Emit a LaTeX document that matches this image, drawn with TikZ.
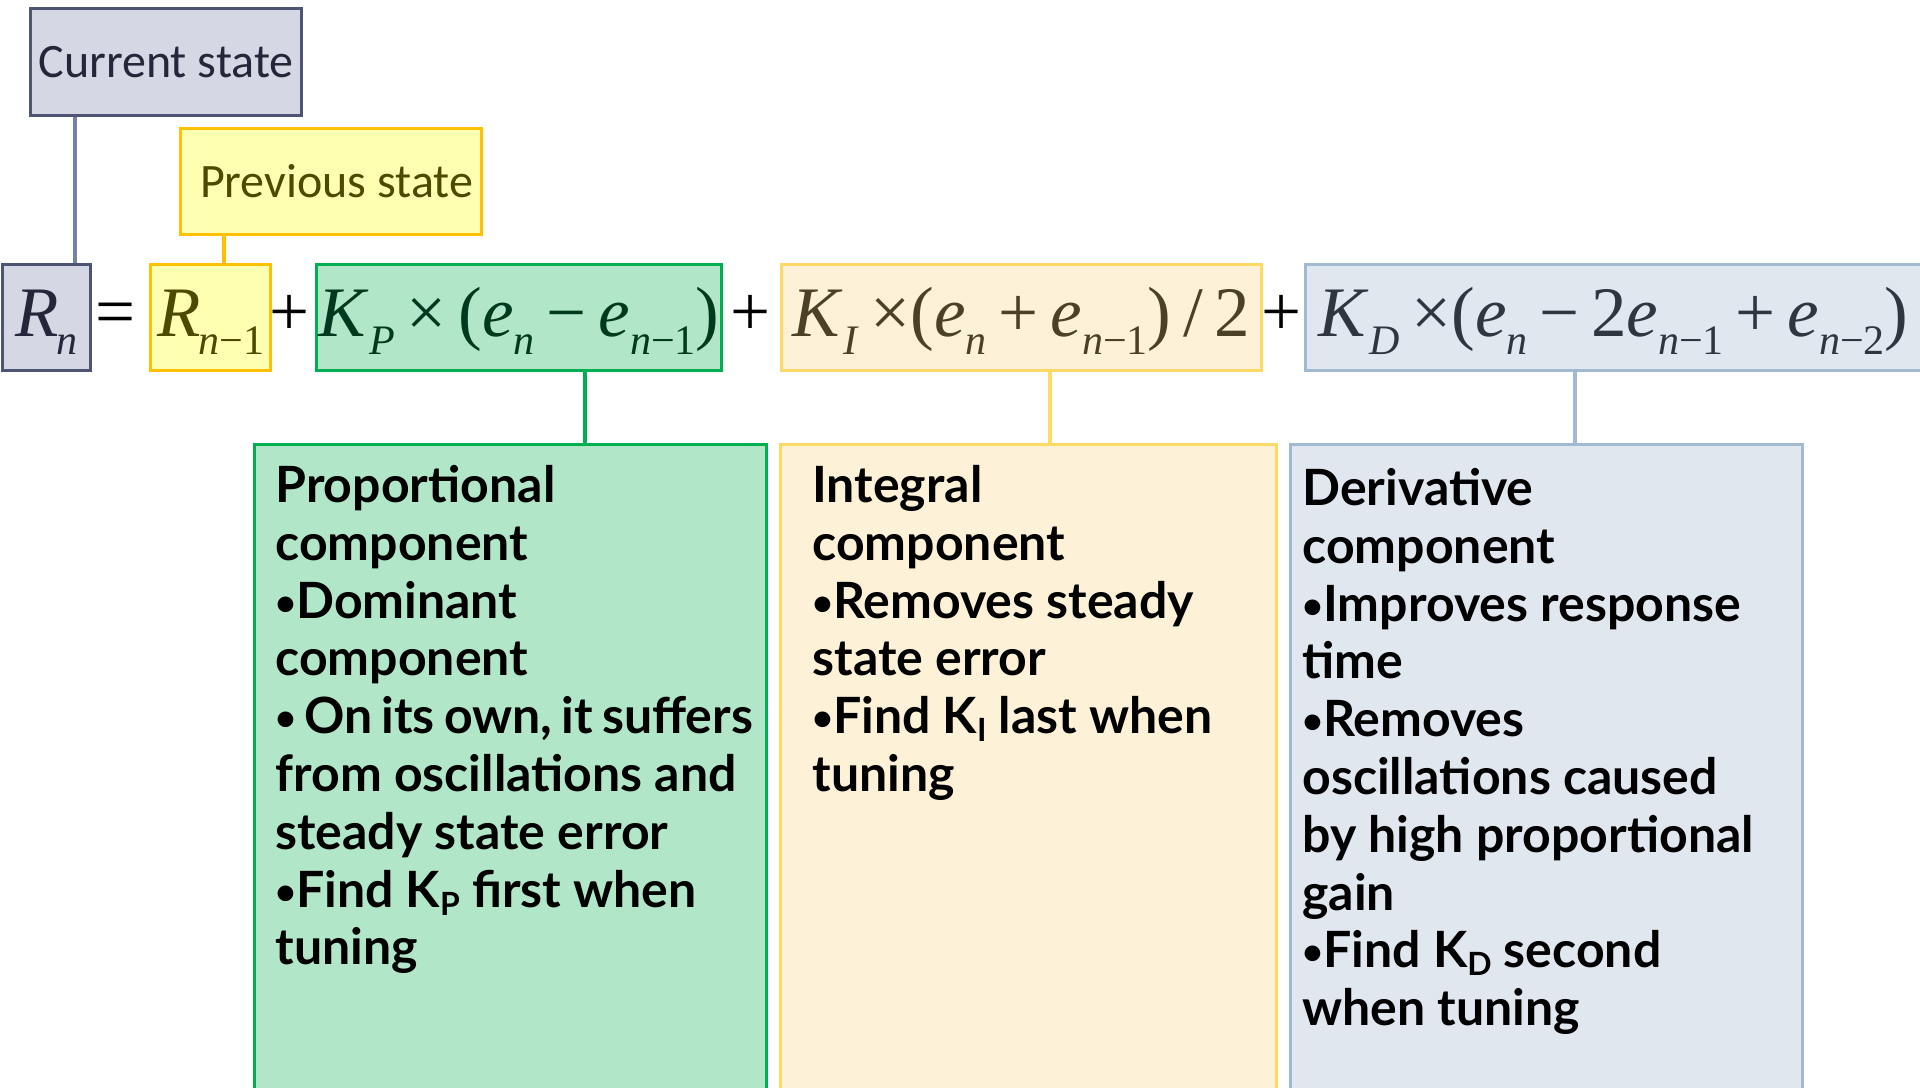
\documentclass[tikz,border=0pt]{standalone}
\usepackage{fontspec}
\setmainfont{Liberation Serif}
\newfontfamily\eqf{Liberation Serif}
\newfontfamily\lblf{Carlito}
\newfontfamily\bodyf{Lato}
\definecolor{curfill}{HTML}{D5D7E4}
\definecolor{curline}{HTML}{4E5574}
\definecolor{curconn}{HTML}{7680A9}
\definecolor{curtext}{HTML}{24263A}
\definecolor{prevfill}{HTML}{FFFFB2}
\definecolor{prevline}{HTML}{FFC000}
\definecolor{prevtext}{HTML}{4C4A00}
\definecolor{kpfill}{HTML}{B2E6C9}
\definecolor{kpline}{HTML}{00B050}
\definecolor{kptext}{HTML}{003A1E}
\definecolor{kifill}{HTML}{FDF2D7}
\definecolor{kiline}{HTML}{FFD966}
\definecolor{kitext}{HTML}{4A4128}
\definecolor{kdfill}{HTML}{E1E7EF}
\definecolor{kdline}{HTML}{A2B9D2}
\definecolor{kdtext}{HTML}{2E3640}
\newcommand{\sbs}[1]{\raisebox{-9pt}{\fontsize{21}{21}\selectfont #1}}
\newcommand{\ksub}[1]{\raisebox{-4pt}{\fontsize{16}{16}\selectfont #1}}
\newcommand{\fl}{\rule{0pt}{22pt}}
\newcommand{\bu}{\raisebox{1.5pt}{\fontsize{18}{18}\selectfont •}}
\begin{document}
\begin{tikzpicture}[x=0.5pt,y=-0.5pt,
  lbl/.style={draw, line width=1.6pt, inner sep=0pt, anchor=north west, font=\lblf\fontsize{24}{28}\selectfont},
  eqbox/.style={draw, line width=1.6pt, inner sep=0pt, anchor=north west, minimum height=53pt, text height=36pt, text depth=17pt, font=\eqf\fontsize{35.5}{40}\selectfont},
  eqop/.style={inner sep=0pt, anchor=base, font=\eqf\fontsize{35.5}{40}\selectfont},
  descbox/.style={draw, line width=1.6pt, inner sep=0pt, anchor=north west, minimum height=330pt},
  desctext/.style={anchor=north west, inner sep=0pt, align=left, font=\bodyf\bfseries\fontsize{25}{28.9}\selectfont},
  conn/.style={line width=1.6pt}]
\useasboundingbox (0,0) rectangle (1920,1087);
% label boxes
\node[lbl, fill=curfill, draw=curline, text=curtext, minimum width=135.5pt, minimum height=53.5pt] (cur) at (29,7) {Current state\hspace{2pt}};
\node[lbl, fill=prevfill, draw=prevline, text=prevtext, minimum width=150.5pt, minimum height=53pt] (prev) at (179,127) {\hspace{5.5pt}Previous state};
% equation boxes
\node[eqbox, fill=curfill, draw=curline, text=curtext, minimum width=44pt] (rn) at (1,263) {\textit{R}\hspace{-1pt}\sbs{\textit{n}}};
\node[eqbox, fill=prevfill, draw=prevline, text=prevtext, minimum width=60pt] (rn1) at (149,263) {\textit{R}\hspace{-1pt}\sbs{\textit{n}−1}};
\node[eqbox, fill=kpfill, draw=kpline, text=kptext, minimum width=202.5pt] (kp) at (315,263) {\textit{K}\sbs{\textit{P}}\,×\,(\textit{e}\sbs{\textit{n}}\,−\,\textit{e}\sbs{\textit{n}−1})};
\node[eqbox, fill=kifill, draw=kiline, text=kitext, minimum width=240pt] (ki) at (780,263) {\textit{K}\sbs{\textit{I}}\,×(\textit{e}\sbs{\textit{n}}\,+\,\textit{e}\sbs{\textit{n}−1})\,/\,2};
\node[eqbox, fill=kdfill, draw=kdline, text=kdtext, minimum width=308pt] (kd) at (1304,263) {\textit{K}\sbs{\textit{D}}\,×(\textit{e}\sbs{\textit{n}}\,−\,2\textit{e}\sbs{\textit{n}−1}\,+\,\textit{e}\sbs{\textit{n}−2})};
% operators
\node[eqop] (eq) at (116,335) {=};
\node[eqop] (pl1) at (290,335) {+};
\node[eqop] (pl2) at (751,335) {+};
\node[eqop] (pl3) at (1282,335) {+};
% description boxes
\node[descbox, fill=kpfill, draw=kpline, minimum width=256pt] (pgreen) at (253,443) {};
\node[descbox, fill=kifill, draw=kiline, minimum width=248pt] (pyellow) at (779,443) {};
\node[descbox, fill=kdfill, draw=kdline, minimum width=256pt] (pblue) at (1289,443) {};
\node[desctext] (tgreen) at (275,458) {\fl Proportional\\component\\\bu Dominant\\component\\\bu\hspace{4pt}{\spaceskip=4.6pt\relax On its own, it suffers}\\from oscillations and\\steady state error\\\bu Find K\ksub{P} first when\\tuning};
\node[desctext] (tyellow) at (812,458) {\fl Integral\\component\\\bu Removes steady\\state error\\\bu Find K\ksub{I} last when\\tuning};
\node[desctext] (tblue) at (1302,461) {\fl Derivative\\component\\\bu Improves response\\time\\\bu Removes\\oscillations caused\\by high proportional\\gain\\\bu Find K\ksub{D} second\\when tuning};
% connectors
\draw[conn, draw=curconn] ([xshift=23pt]cur.south west) -- ([xshift=23pt]cur.south west |- rn.north);
\draw[conn, draw=prevline] ([xshift=22.5pt]prev.south west) -- ([xshift=22.5pt]prev.south west |- rn1.north);
\draw[conn, draw=kpline] ([xshift=135pt]kp.south west) -- ([xshift=135pt]kp.south west |- pgreen.north);
\draw[conn, draw=kiline] ([xshift=135pt]ki.south west) -- ([xshift=135pt]ki.south west |- pyellow.north);
\draw[conn, draw=kdline] ([xshift=135.5pt]kd.south west) -- ([xshift=135.5pt]kd.south west |- pblue.north);
\end{tikzpicture}
\end{document}
